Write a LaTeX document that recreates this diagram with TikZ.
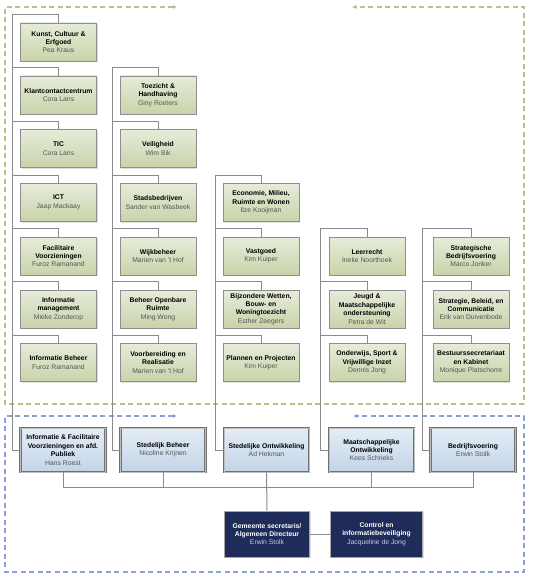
\documentclass[tikz,border=0pt]{standalone}
\usepackage{fontspec}
\setmainfont{Liberation Sans}
\usetikzlibrary{shadows,arrows.meta}
\definecolor{gborder}{HTML}{8E8E8E}
\definecolor{gtop}{HTML}{E6ECDA}
\definecolor{gbot}{HTML}{C8D3A9}
\definecolor{btop}{HTML}{E4EDF7}
\definecolor{bbot}{HTML}{C3D4E8}
\definecolor{bborder}{HTML}{707070}
\definecolor{navy}{HTML}{1F2B58}
\definecolor{namegray}{HTML}{555555}
\definecolor{namelight}{HTML}{C9CEE0}
\definecolor{lineg}{HTML}{8A8A8A}
\definecolor{dashgreen}{HTML}{B4C386}
\definecolor{dashblue}{HTML}{8C9FD8}
\newcommand\orgfs{\fontsize{6.8}{8.4}\selectfont\bfseries}
\newcommand\nmg{\mdseries\color{namegray}}
\newcommand\nml{\mdseries\color{namelight}}
\tikzset{
  gbox/.style={draw=gborder, line width=0.9pt, top color=gtop, bottom color=gbot,
    minimum width=76pt, minimum height=38pt, align=center, inner sep=0.5pt, font=\orgfs,
    drop shadow={shadow xshift=1.2pt, shadow yshift=-1.2pt, opacity=0.25}},
  bbox/.style={draw=bborder, line width=0.9pt, double=gray!50, double distance=1pt,
    top color=btop, bottom color=bbot, minimum width=85pt, minimum height=44pt,
    align=center, inner sep=0.5pt, font=\orgfs,
    drop shadow={shadow xshift=1.2pt, shadow yshift=-1.2pt, opacity=0.25}},
  nbox/.style={draw=gray!70, line width=0.6pt, fill=navy, text=white,
    minimum height=46pt, align=center, inner sep=1pt, font=\orgfs,
    drop shadow={shadow xshift=1.2pt, shadow yshift=-1.2pt, opacity=0.25}},
  conn/.style={draw=lineg, line width=1pt},
  gdash/.style={draw=dashgreen, line width=1.1pt, dash pattern=on 5pt off 3.5pt,
    {Latex[length=4pt,width=4pt,fill=dashgreen!70!black]}-{Latex[length=4pt,width=4pt,fill=dashgreen!70!black]}},
  bdash/.style={draw=dashblue, line width=1.1pt, dash pattern=on 5pt off 3.5pt,
    {Latex[length=4pt,width=4pt,fill=dashblue!70!black]}-{Latex[length=4pt,width=4pt,fill=dashblue!70!black]}},
}
\begin{document}
\begin{tikzpicture}[x=1pt,y=-1pt]
\useasboundingbox (0,0) rectangle (537,585);
\fill[white] (0,0) rectangle (537,585);

% dashed frames
\coordinate (gA) at (177,7);
\coordinate (gB) at (352,7);
\draw[gdash] (gA) -- (5,7) -- (5,404) -- (524,404) -- (524,7) -- (gB);
\coordinate (bA) at (177,416);
\coordinate (bB) at (353,416);
\draw[bdash] (bA) -- (5,416) -- (5,572) -- (524,572) -- (524,416) -- (bB);

% column 1
\node[gbox] (k1) at (58.5,42) {Kunst, Cultuur \&\\Erfgoed\\\nmg Pea Kraus};
\node[gbox] (k2) at (58.5,95) {Klantcontactcentrum\\\nmg Cora Lans};
\node[gbox] (k3) at (58.5,148.5) {TIC\\\nmg Cora Lans};
\node[gbox] (k4) at (58.5,202.5) {ICT\\\nmg Jaap Mackaay};
\node[gbox] (k5) at (58.5,256) {Facilitaire\\Voorzieningen\\\nmg Furoz Ramanand};
\node[gbox] (k6) at (58.5,309) {Informatie\\management\\\nmg Mieke Zonderop};
\node[gbox] (k7) at (58.5,362.5) {Informatie Beheer\\\nmg Furoz Ramanand};

% column 2
\node[gbox] (s2) at (158,95) {Toezicht \&\\Handhaving\\\nmg Giny Roeters};
\node[gbox] (s3) at (158,148.5) {Veiligheid\\\nmg Wim Bik};
\node[gbox] (s4) at (158,202.5) {Stadsbedrijven\\\nmg Sander van Wasbeek};
\node[gbox] (s5) at (158,256) {Wijkbeheer\\\nmg Marien van 't Hof};
\node[gbox] (s6) at (158,309) {Beheer Openbare\\Ruimte\\\nmg Ming Wong};
\node[gbox] (s7) at (158,362.5) {Voorbereiding en\\Realisatie\\\nmg Marien van 't Hof};

% column 3
\node[gbox] (o4) at (261,202.5) {Economie, Milieu,\\Ruimte en Wonen\\\nmg Ilze Kooijman};
\node[gbox] (o5) at (261,256) {Vastgoed\\\nmg Kim Kuiper};
\node[gbox] (o6) at (261,309) {Bijzondere Wetten,\\Bouw- en\\Woningtoezicht\\\nmg Esther Zeegers};
\node[gbox] (o7) at (261,362.5) {Plannen en Projecten\\\nmg Kim Kuiper};

% column 4
\node[gbox] (m5) at (367,256) {Leerrecht\\\nmg Ineke Noorthoek};
\node[gbox] (m6) at (367,309) {Jeugd \&\\Maatschappelijke\\ondersteuning\\\nmg Petra de Wit};
\node[gbox] (m7) at (367,362.5) {Onderwijs, Sport \&\\Vrijwillige Inzet\\\nmg Dennis Jong};

% column 5
\node[gbox] (b5) at (471,256) {Strategische\\Bedrijfsvoering\\\nmg Marco Jonker};
\node[gbox] (b6) at (471,309) {Strategie, Beleid, en\\Communicatie\\\nmg Erik van Duivenbode};
\node[gbox] (b7) at (471,362.5) {Bestuurssecretariaat\\en Kabinet\\\nmg Monique Platschorre};

% department boxes
\node[bbox] (B1) at (63,450) {Informatie \& Facilitaire\\Voorzieningen en afd.\\Publiek\\\nmg Hans Roest};
\node[bbox] (B2) at (163,450) {Stedelijk Beheer\\\nmg Nicoline Krijnen};
\node[bbox] (B3) at (266.5,450) {Stedelijke Ontwikkeling\\\nmg Ad Hekman};
\node[bbox] (B4) at (371.5,450) {Maatschappelijke\\Ontwikkeling\\\nmg Kees Schrieks};
\node[bbox] (B5) at (473,450) {Bedrijfsvoering\\\nmg Erwin Stolk};

% directors
\node[nbox, minimum width=85pt] (G) at (267,534) {Gemeente secretaris/\\Algemeen Directeur\\\nml Erwin Stolk};
\node[nbox, minimum width=92pt] (C) at (376.5,534) {Control en\\informatiebeveiliging\\\nml Jacqueline de Jong};

% connectors children
\foreach \p/\kids in {B1/{k1,k2,k3,k4,k5,k6,k7}, B2/{s2,s3,s4,s5,s6,s7}, B3/{o4,o5,o6,o7}, B4/{m5,m6,m7}, B5/{b5,b6,b7}}{
  \foreach \c in \kids {
    \draw[conn] (\p.west) -- ++(-8,0) |- ([yshift=8pt]\c.north) -- (\c.north);
  }
}

% bus
\coordinate (bus) at (266.5,487);
\draw[conn] (B1.south) |- (bus) -| (B5.south);
\draw[conn] (B2.south) |- (bus);
\draw[conn] (B4.south) |- (bus);
\draw[conn] (B3.south) -- (G.north);
\draw[conn] (G.east) -- (C.west);
\end{tikzpicture}
\end{document}
